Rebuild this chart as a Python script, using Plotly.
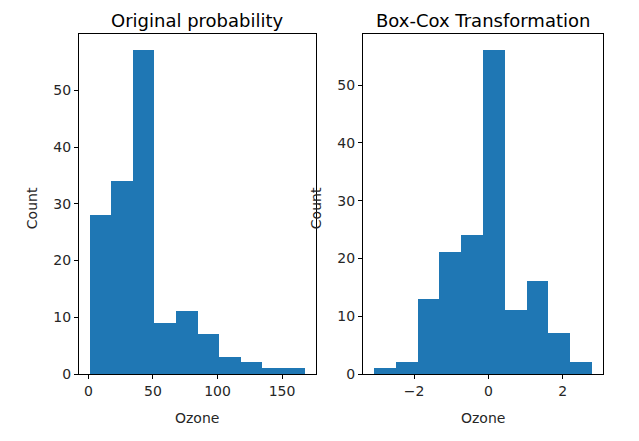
import plotly.graph_objects as go

# Data
orig_edges = [1.0, 17.7, 34.4, 51.1, 67.8, 84.5, 101.2, 117.9, 134.6, 151.3, 168.0]
orig_counts = [28, 34, 57, 9, 11, 7, 3, 2, 1, 1]

bc_edges = [-3.08, -2.493, -1.906, -1.319, -0.732, -0.145, 0.442, 1.029, 1.616, 2.203, 2.79]
bc_counts = [1, 2, 13, 21, 24, 56, 11, 16, 7, 2]

titles = ["Original probability", "Box-Cox Transformation"]
x_label = "Ozone"
y_label = "Count"

BLUE = "#1f77b4"
FONT = "DejaVu Sans"
W, H = 639, 441

def centers(edges):
    return [(a + b) / 2 for a, b in zip(edges[:-1], edges[1:])]

def widths(edges):
    return [b - a for a, b in zip(edges[:-1], edges[1:])]

fig = go.Figure()
fig.add_trace(go.Bar(x=centers(orig_edges), y=orig_counts, width=widths(orig_edges),
                     marker=dict(color=BLUE, line=dict(width=0)), xaxis="x", yaxis="y",
                     showlegend=False))
fig.add_trace(go.Bar(x=centers(bc_edges), y=bc_counts, width=widths(bc_edges),
                     marker=dict(color=BLUE, line=dict(width=0)), xaxis="x2", yaxis="y2",
                     showlegend=False))

def pad_range(lo, hi, frac=0.05):
    d = (hi - lo) * frac
    return [lo - d, hi + d]

def py(px):
    # pixel row from top -> paper y
    return 1 - px / H

left_dom = [79 / W, 316 / W]
right_dom = [363 / W, 603 / W]
ydom = [py(381), py(35)]

axis_common = dict(showline=True, linecolor="black", linewidth=1, mirror=True,
                   ticks="outside", ticklen=4, tickcolor="black", tickwidth=1,
                   showgrid=False, zeroline=False,
                   tickfont=dict(family=FONT, size=14, color="#262626"))

fig.update_layout(
    width=W, height=H, margin=dict(l=0, r=0, t=0, b=0, pad=0),
    paper_bgcolor="white", plot_bgcolor="white", bargap=0,
    xaxis=dict(domain=left_dom, anchor="y", range=pad_range(orig_edges[0], orig_edges[-1]),
               tickvals=[0, 50, 100, 150], **axis_common),
    yaxis=dict(domain=ydom, anchor="x", range=[0, max(orig_counts) * 1.05],
               tickvals=[0, 10, 20, 30, 40, 50], **axis_common),
    xaxis2=dict(domain=right_dom, anchor="y2", range=pad_range(bc_edges[0], bc_edges[-1]),
                tickvals=[-2, 0, 2], ticktext=["\u22122", "0", "2"], **axis_common),
    yaxis2=dict(domain=ydom, anchor="x2", range=[0, max(bc_counts) * 1.05],
                tickvals=[0, 10, 20, 30, 40, 50], **axis_common),
)

ann = []
for dom, t in zip([left_dom, right_dom], titles):
    cx = (dom[0] + dom[1]) / 2
    ann.append(dict(x=cx, y=py(21), xref="paper", yref="paper", text=t, showarrow=False,
                    xanchor="center", yanchor="middle",
                    font=dict(family=FONT, size=18, color="black")))
    ann.append(dict(x=cx, y=py(426), xref="paper", yref="paper", text=x_label, showarrow=False,
                    xanchor="center", yanchor="middle",
                    font=dict(family=FONT, size=14, color="#262626")))
for xpx in [32, 316]:
    ann.append(dict(x=xpx / W, y=py(212), xref="paper", yref="paper", text=y_label,
                    showarrow=False, textangle=-90, xanchor="center", yanchor="middle",
                    font=dict(family=FONT, size=14, color="#262626")))
fig.update_layout(annotations=ann)

fig.write_html("out.html")
